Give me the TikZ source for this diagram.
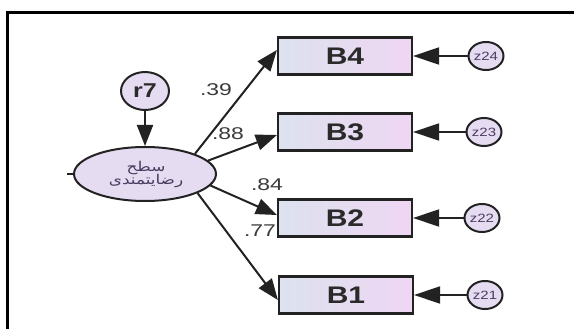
\documentclass[tikz,border=0pt]{standalone}
\usepackage{fontspec}
\usepackage{graphicx}
\setmainfont{Liberation Sans}
\newfontfamily\arabicfont[Script=Arabic]{DejaVu Sans}
\TeXXeTstate=1
\usetikzlibrary{shapes.geometric,arrows.meta,calc}
\definecolor{edge}{HTML}{222222}
\definecolor{boxL}{HTML}{DCE2EE}
\definecolor{boxR}{HTML}{EFD6F3}
\definecolor{ellfill}{HTML}{E6DCF2}
\definecolor{txt}{HTML}{2A2A2A}
\definecolor{labtxt}{HTML}{3A3A3A}
\definecolor{artxt}{HTML}{4A3C60}
\newcommand{\sx}[1]{\scalebox{1.25}[1]{#1}}
\newcommand{\sxl}[1]{\scalebox{1.35}[1]{#1}}
\tikzset{
  obs/.style={draw=edge, line width=2.2pt, rectangle, minimum width=134pt, minimum height=37pt,
    left color=boxL, right color=boxR, shading angle=90, inner sep=0pt,
    font=\bfseries\fontsize{24}{24}\selectfont, text=txt},
  err/.style={draw=edge, line width=2pt, ellipse, minimum width=35pt, minimum height=28pt,
    fill=ellfill, inner sep=0pt, font=\fontsize{12}{12}\selectfont, text=artxt},
  lat/.style={draw=edge, line width=2pt, ellipse, fill=ellfill, inner sep=0pt},
  path/.style={draw=edge, line width=2pt, -{Triangle[length=21pt,width=16pt]}},
  epath/.style={draw=edge, line width=2pt, -{Triangle[length=26pt,width=17pt]}},
  lab/.style={font=\fontsize{17}{17}\selectfont, text=labtxt, inner sep=0pt},
}
\begin{document}
\begin{tikzpicture}[x=1pt,y=-1pt]
\useasboundingbox (0,0) rectangle (574,329);
\fill[white] (0,0) rectangle (574,329);
% frame
\draw[line width=3pt, black] (7,330) -- (7,13) -- (576,13);
% latent factor
\node[lat, minimum width=142pt, minimum height=54pt] (F) at (145,174) {};
\node[text=artxt, font=\arabicfont\fontsize{13.5}{15}\selectfont, align=center, inner sep=0pt] (Ft) at (146,175)
  {\sx{\beginR سطح\endR}\\[-2pt]\sx{\beginR رضایتمندی\endR}};
\coordinate (stub) at (67,174);
\draw[edge, line width=2pt] (stub) -- (F.west);
% residual of factor
\node[lat, minimum width=48pt, minimum height=38pt, font=\bfseries\fontsize{20}{20}\selectfont, text=txt] (r7) at (145,91) {\sx{r7}};
\draw[path] (r7.south) -- (F.north);
% observed variables
\node[obs] (B4) at (345,56) {\sx{B4}};
\node[obs] (B3) at (345,132) {\sx{B3}};
\node[obs] (B2) at (345,218) {\sx{B2}};
\node[obs] (B1) at (346,295) {\sx{B1}};
% errors
\node[err] (z24) at (486,56) {\sx{z24}};
\node[err] (z23) at (484,132) {\sx{z23}};
\node[err] (z22) at (482,218) {\sx{z22}};
\node[err] (z21) at (485,295) {\sx{z21}};
% loadings
\draw[path] (F.22) -- ($(B4.west)+(0,-6)$);
\draw[path] (F.12) -- ($(B3.west)+(0,3)$);
\draw[path] (F.-10) -- ($(B2.west)+(0,-3)$);
\draw[path] (F.-20) -- ($(B1.west)+(0,5)$);
\node[lab] (l39) at (216,90) {\sxl{.39}};
\node[lab] (l88) at (228,134) {\sxl{.88}};
\node[lab] (l84) at (267,185) {\sxl{.84}};
\node[lab] (l77) at (260,231) {\sxl{.77}};
% error paths
\draw[epath] (z24.west) -- (B4.east);
\draw[epath] (z23.west) -- (B3.east);
\draw[epath] (z22.west) -- (B2.east);
\draw[epath] (z21.west) -- (B1.east);
\end{tikzpicture}
\end{document}
